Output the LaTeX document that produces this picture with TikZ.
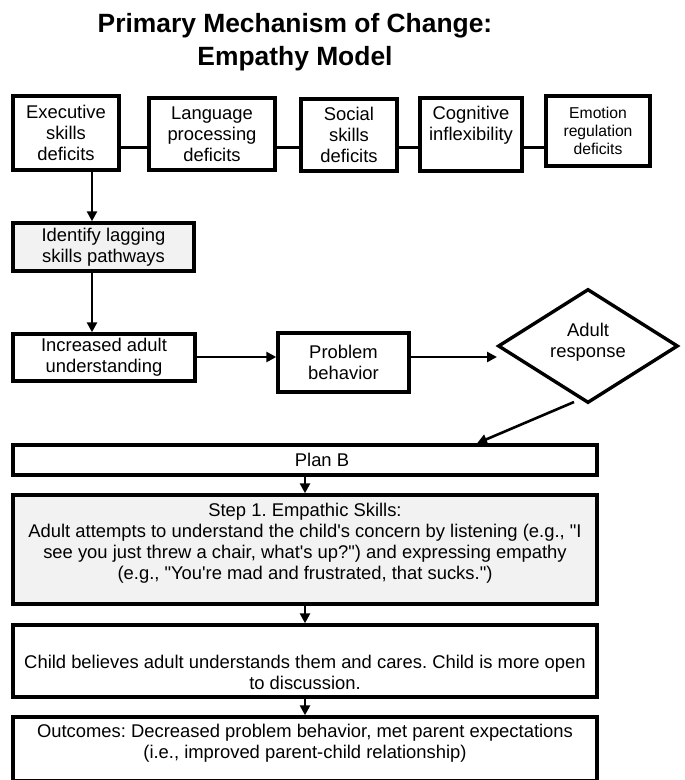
\documentclass[tikz,border=0pt]{standalone}
\usepackage{fontspec}
\setmainfont{Liberation Sans}[Ligatures=TeXOff]
\usetikzlibrary{shapes.geometric,arrows.meta,calc}
\definecolor{boxgray}{HTML}{F2F2F2}
\newcommand{\myfs}{\fontsize{18.4}{21}\selectfont\frenchspacing}
\newcommand{\mysmallfs}{\fontsize{15.7}{18}\selectfont\frenchspacing}
\begin{document}
\frenchspacing
\begin{tikzpicture}[x=1pt,y=-1pt,
  bx/.style={draw=black, line width=3.4pt, rectangle, inner sep=0pt, align=center, font=\myfs},
  gbox/.style={bx, fill=boxgray},
  txt/.style={align=center, inner sep=0pt, font=\myfs},
  con/.style={line width=3pt},
  arr/.style={line width=2.6pt, -{Triangle[length=10pt,width=10pt]}},
  dia/.style={draw=black, line width=3.4pt, diamond, inner sep=0pt}]
\useasboundingbox (0,0) rectangle (685,780);
\clip (0,0) rectangle (685,780);

% title
\node[font=\bfseries\fontsize{26.4}{33}\selectfont, align=center, inner sep=0pt] (title) at (295,42) {Primary Mechanism of Change:\\Empathy Model};

% top row
\node[bx, minimum width=106pt, minimum height=74pt] (b1) at (66,133) {Executive\\skills\\deficits};
\node[bx, minimum width=126pt, minimum height=72pt] (b2) at (212,134) {Language\\processing\\deficits};
\node[bx, minimum width=96pt, minimum height=72pt] (b3) at (349,135) {Social\\skills\\deficits};
\node[bx, minimum width=102pt, minimum height=73pt] (b4) at (471,134.5) {};
\node[txt] (b4t) at (471,125) {Cognitive\\inflexibility};
\node[bx, minimum width=104pt, minimum height=70pt, font=\mysmallfs] (b5) at (598,131) {Emotion\\regulation\\deficits};

\coordinate (rowy) at (0,147);
\draw[con] (b1.east |- rowy) -- (b2.west |- rowy);
\draw[con] (b2.east |- rowy) -- (b3.west |- rowy);
\draw[con] (b3.east |- rowy) -- (b4.west |- rowy);
\draw[con] (b4.east |- rowy) -- (b5.west |- rowy);

% left column
\node[gbox, minimum width=181pt, minimum height=48pt] (ident) at (103.5,247) {Identify lagging\\skills pathways};
\node[bx, minimum width=182pt, minimum height=47pt] (incr) at (104,357.5) {Increased adult\\understanding};
\node[bx, minimum width=131pt, minimum height=59pt] (prob) at (343.5,362.5) {Problem\\behavior};
\node[dia, minimum width=180pt, minimum height=114pt] (resp) at (588,346) {};
\node[txt] (respt) at (588,342) {Adult\\response};

\coordinate (colx) at (92,0);
\draw[arr] (b1.south -| colx) -- (ident.north -| colx);
\draw[arr] (ident.south -| colx) -- (incr.north -| colx);
\coordinate (ary) at (0,357);
\draw[arr] (incr.east |- ary) -- (prob.west |- ary);
\coordinate (rtip) at (497,357);
\draw[arr] (prob.east |- ary) -- (rtip);

% bottom stack
\node[bx, minimum width=584pt, minimum height=30pt] (planb) at (305,460) {};
\node[txt] (planbt) at (322,460) {Plan B};
\node[gbox, minimum width=584pt, minimum height=109pt] (step) at (305,549.5) {};
\node[txt] (stept) at (305,543) {Step 1. Empathic Skills:\\Adult attempts to understand the child's concern by listening (e.g., "I\\see you just threw a chair, what's up?") and expressing empathy\\(e.g., "You're mad and frustrated, that sucks.")};
\node[bx, minimum width=584pt, minimum height=72pt] (child) at (305,661) {};
\node[txt] (childt) at (305,672) {Child believes adult understands them and cares. Child is more open\\to discussion.};
\node[bx, minimum width=584pt, minimum height=64pt] (outc) at (305,749) {};
\node[txt] (outct) at (305,743) {Outcomes: Decreased problem behavior, met parent expectations\\(i.e., improved parent-child relationship)};

\coordinate (rstart) at (574,402);
\draw[arr] (rstart) -- ($(planb.north)+(172,0)$);
\draw[arr] (planb.south) -- (step.north);
\draw[arr] (step.south) -- (child.north);
\draw[arr] (child.south) -- (outc.north);
\end{tikzpicture}
\end{document}
